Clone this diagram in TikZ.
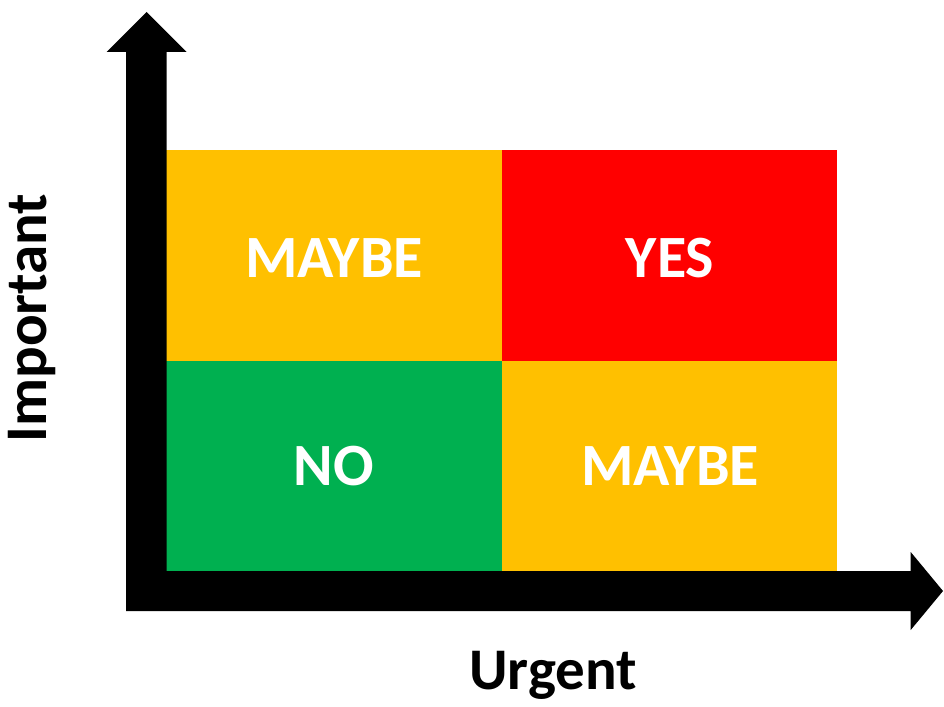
\documentclass[tikz,border=0pt]{standalone}
\usepackage{fontspec}
\setmainfont{Carlito}
\definecolor{qorange}{HTML}{FFC000}
\definecolor{qred}{HTML}{FF0000}
\definecolor{qgreen}{HTML}{00B050}
\begin{document}
\begin{tikzpicture}[x=1pt,y=-1pt,
  quad/.style={font=\fontsize{60}{62}\selectfont\bfseries,text=white},
  axlabel/.style={font=\fontsize{59}{61}\selectfont\bfseries,text=black}]
\useasboundingbox (0,0) rectangle (944,706);
% quadrants
\fill[qorange] (166,150) rectangle (502,361);
\fill[qred] (502,150) rectangle (837,361);
\fill[qgreen] (166,361) rectangle (502,571);
\fill[qorange] (502,361) rectangle (837,571);
\node[quad] (q1) at (334,258) {MAYBE};
\node[quad] (q2) at (670,258) {YES};
\node[quad] (q3) at (334,466) {NO};
\node[quad] (q4) at (670,466) {MAYBE};
% axes
\fill[black] (126,611) -- (126,52) -- (106.7,52) -- (146.7,12) -- (186.5,52) -- (166.5,52) -- (166.5,571)
  -- (910.7,571) -- (910.7,552) -- (943,591) -- (910.7,630) -- (910.7,611) -- cycle;
\node[axlabel,rotate=90] (imp) at (32,318) {Important};
\node[axlabel] (urg) at (553,675) {Urgent};
\end{tikzpicture}
\end{document}
